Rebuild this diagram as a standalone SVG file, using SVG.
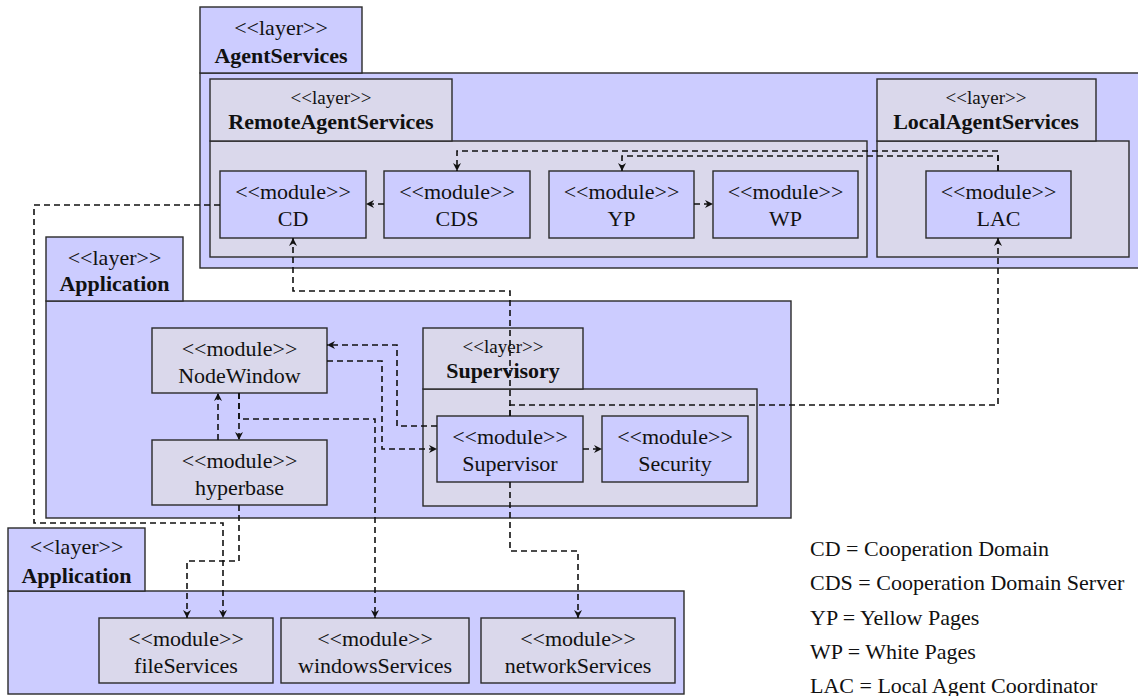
<svg xmlns="http://www.w3.org/2000/svg" width="1138" height="696" viewBox="0 0 1138 696">
<defs>
<style>
.blue{fill:#ccccff;stroke:#2a2a2a;stroke-width:1.4}
.grey{fill:#dad8eb;stroke:#2a2a2a;stroke-width:1.4}
text{fill:#111;text-anchor:middle}
.t{font-size:22px}
.s{font-size:19px}
.b{font-size:22px;font-weight:bold}
.leg{font-size:22px;text-anchor:start}
.c{fill:none;stroke:#111;stroke-width:1.6;stroke-dasharray:6,4;marker-end:url(#ah)}
</style>
<marker id="ah" markerUnits="userSpaceOnUse" markerWidth="10" markerHeight="10" refX="9" refY="5" orient="auto">
<path d="M1,1 L9,5 L1,9 L3.5,5 Z" fill="#111"/>
</marker>
</defs>
<g font-family="'Liberation Serif', 'DejaVu Serif', serif">

<g id="layer-AgentServices">
<rect class="blue" x="200" y="73" width="945" height="195"/>
<rect class="blue" x="200" y="7" width="162" height="66"/>
<text class="t" x="281" y="35">&lt;&lt;layer&gt;&gt;</text>
<text class="b" x="281" y="63">AgentServices</text>
</g>

<g id="layer-RemoteAgentServices">
<rect class="grey" x="210" y="141" width="657" height="116"/>
<rect class="grey" x="210" y="79" width="242" height="62"/>
<text class="s" x="331" y="104">&lt;&lt;layer&gt;&gt;</text>
<text class="b" x="331" y="129">RemoteAgentServices</text>
</g>

<g id="layer-LocalAgentServices">
<rect class="grey" x="877" y="141" width="252" height="116"/>
<rect class="grey" x="877" y="79" width="219" height="62"/>
<text class="s" x="986" y="104">&lt;&lt;layer&gt;&gt;</text>
<text class="b" x="986" y="129">LocalAgentServices</text>
</g>

<g id="module-CD">
<rect class="blue" x="220" y="171" width="146" height="67"/>
<text class="t" x="293" y="199">&lt;&lt;module&gt;&gt;</text>
<text class="t" x="293" y="226">CD</text>
</g>
<g id="module-CDS">
<rect class="blue" x="384" y="171" width="146" height="67"/>
<text class="t" x="457" y="199">&lt;&lt;module&gt;&gt;</text>
<text class="t" x="457" y="226">CDS</text>
</g>
<g id="module-YP">
<rect class="blue" x="549" y="171" width="145" height="67"/>
<text class="t" x="621.5" y="199">&lt;&lt;module&gt;&gt;</text>
<text class="t" x="621.5" y="226">YP</text>
</g>
<g id="module-WP">
<rect class="blue" x="713" y="171" width="145" height="67"/>
<text class="t" x="785.5" y="199">&lt;&lt;module&gt;&gt;</text>
<text class="t" x="785.5" y="226">WP</text>
</g>
<g id="module-LAC">
<rect class="blue" x="926" y="171" width="145" height="67"/>
<text class="t" x="998.5" y="199">&lt;&lt;module&gt;&gt;</text>
<text class="t" x="998.5" y="226">LAC</text>
</g>

<g id="layer-Application-mid">
<rect class="blue" x="46" y="301" width="745" height="217"/>
<rect class="blue" x="46" y="237" width="137" height="64"/>
<text class="t" x="114.5" y="265">&lt;&lt;layer&gt;&gt;</text>
<text class="b" x="114.5" y="291">Application</text>
</g>

<g id="module-NodeWindow">
<rect class="grey" x="152" y="328" width="175" height="65"/>
<text class="t" x="239.5" y="356">&lt;&lt;module&gt;&gt;</text>
<text class="t" x="239.5" y="383">NodeWindow</text>
</g>
<g id="module-hyperbase">
<rect class="grey" x="152" y="440" width="175" height="65"/>
<text class="t" x="239.5" y="468">&lt;&lt;module&gt;&gt;</text>
<text class="t" x="239.5" y="495">hyperbase</text>
</g>

<g id="layer-Supervisory">
<rect class="grey" x="423" y="389" width="334" height="117"/>
<rect class="grey" x="423" y="328" width="160" height="61"/>
<text class="s" x="503" y="353">&lt;&lt;layer&gt;&gt;</text>
<text class="b" x="503" y="378">Supervisory</text>
</g>
<g id="module-Supervisor">
<rect class="blue" x="437" y="416" width="146" height="66"/>
<text class="t" x="510" y="444">&lt;&lt;module&gt;&gt;</text>
<text class="t" x="510" y="471">Supervisor</text>
</g>
<g id="module-Security">
<rect class="blue" x="602" y="416" width="146" height="66"/>
<text class="t" x="675" y="444">&lt;&lt;module&gt;&gt;</text>
<text class="t" x="675" y="471">Security</text>
</g>

<g id="layer-Application-bottom">
<rect class="blue" x="8" y="591" width="676" height="103"/>
<rect class="blue" x="8" y="528" width="137" height="63"/>
<text class="t" x="76.5" y="554">&lt;&lt;layer&gt;&gt;</text>
<text class="b" x="76.5" y="583">Application</text>
</g>
<g id="module-fileServices">
<rect class="grey" x="99" y="618" width="174" height="65"/>
<text class="t" x="186" y="646">&lt;&lt;module&gt;&gt;</text>
<text class="t" x="186" y="673">fileServices</text>
</g>
<g id="module-windowsServices">
<rect class="grey" x="281" y="618" width="188" height="65"/>
<text class="t" x="375" y="646">&lt;&lt;module&gt;&gt;</text>
<text class="t" x="375" y="673">windowsServices</text>
</g>
<g id="module-networkServices">
<rect class="grey" x="481" y="618" width="194" height="65"/>
<text class="t" x="578" y="646">&lt;&lt;module&gt;&gt;</text>
<text class="t" x="578" y="673">networkServices</text>
</g>

<g id="connectors">
<path class="c" d="M384,204 L366,204"/>
<path class="c" d="M694,204 L713,204"/>
<path class="c" d="M998,171 L998,151 L457,151 L457,171"/>
<path class="c" d="M998,171 L998,156 L622,156 L622,171"/>
<path class="c" d="M510,416 L510,291 L293,291 L293,238"/>
<path class="c" d="M510,416 L510,405 L998,405 L998,238"/>
<path class="c" d="M510,482 L510,551 L578,551 L578,618"/>
<path class="c" d="M583,449 L602,449"/>
<path class="c" d="M437,426 L397,426 L397,345 L327,345"/>
<path class="c" d="M327,361 L382,361 L382,449 L437,449"/>
<path class="c" d="M239,393 L239,440"/>
<path class="c" d="M218,440 L218,393"/>
<path class="c" d="M239,393 L239,419 L375,419 L375,618"/>
<path class="c" d="M239,505 L239,561 L187,561 L187,618"/>
<path class="c" d="M220,205 L34,205 L34,523 L223,523 L223,618"/>
</g>

<g id="legend">
<text class="leg" x="810" y="556">CD = Cooperation Domain</text>
<text class="leg" x="810" y="590">CDS = Cooperation Domain Server</text>
<text class="leg" x="810" y="625">YP = Yellow Pages</text>
<text class="leg" x="810" y="659">WP = White Pages</text>
<text class="leg" x="810" y="693">LAC = Local Agent Coordinator</text>
</g>
</g>
</svg>
